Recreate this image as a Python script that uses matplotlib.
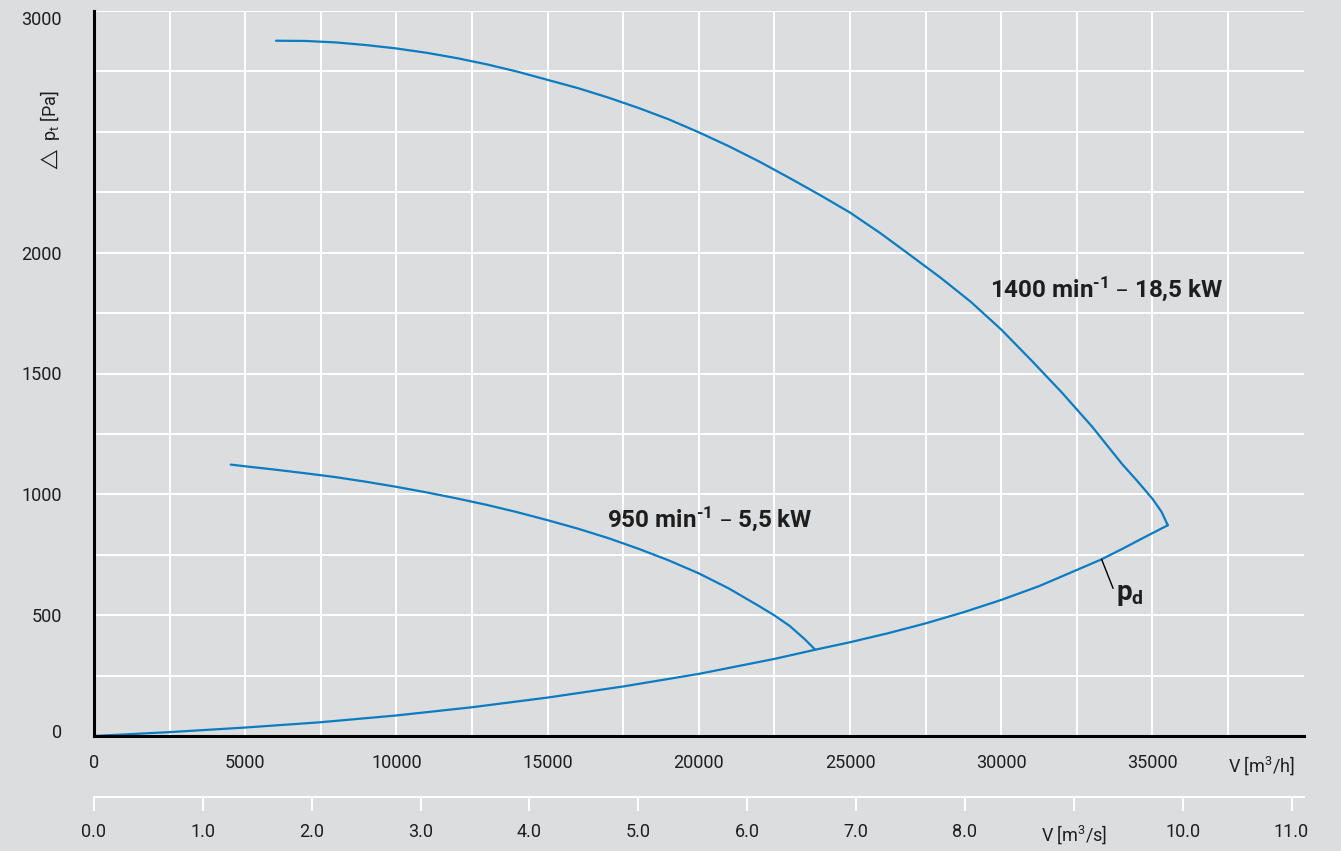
import numpy as np
import matplotlib
matplotlib.use("Agg")
import matplotlib.pyplot as plt
from matplotlib.transforms import ScaledTranslation

# ---------------- data ----------------
# 1400 min-1 characteristic (V [m3/h], dpt [Pa])
v_1400 = [6020, 7000, 8000, 9000, 10000, 11000, 12000, 13000, 14000, 15000,
          16000, 17000, 18000, 19000, 20000, 21000, 22000, 23000, 24000, 25000,
          26000, 27000, 28000, 29000, 30000, 31000, 32000, 33000, 34000, 34500,
          35000, 35300, 35510]
p_1400 = [2877, 2876, 2870, 2859, 2845, 2827, 2805, 2779, 2749, 2715,
          2681, 2642, 2599, 2552, 2498, 2440, 2377, 2309, 2239, 2166,
          2081, 1989, 1896, 1796, 1682, 1554, 1422, 1281, 1125, 1055,
          982, 928, 872]

# 950 min-1 characteristic
v_950 = [4520, 5000, 6000, 7000, 8000, 9000, 10000, 11000, 12000, 13000,
         14000, 15000, 16000, 17000, 18000, 19000, 20000, 21000, 22000, 22500,
         23000, 23500, 23850]
p_950 = [1123, 1116, 1102, 1087, 1071, 1052, 1031, 1008, 983, 956,
         926, 893, 858, 819, 775, 727, 673, 610, 537, 499,
         456, 401, 357]

# dynamic pressure pd
v_pd = [0, 2500, 5000, 7500, 10000, 12500, 15000, 17500, 20000, 22500, 23850,
        25000, 26250, 27500, 28750, 30000, 31250, 32500, 33300, 34000, 34700, 35510]
p_pd = [0, 16, 35, 57, 85, 119, 159, 205, 257, 319, 357,
        388, 425, 466, 512, 563, 620, 687, 730, 774, 820, 872]

x_ticks_h = [0, 5000, 10000, 15000, 20000, 25000, 30000, 35000, 40000]
x_labels_h = ["0", "5000", "10000", "15000", "20000", "25000", "30000", "35000",
              "V [m$^\\mathregular{3}$/h]"]
x_ticks_s = list(range(0, 12))
x_labels_s = ["0.0", "1.0", "2.0", "3.0", "4.0", "5.0", "6.0", "7.0", "8.0",
              "V [m$^\\mathregular{3}$/s]", "10.0", "11.0"]
y_ticks = [0, 500, 1000, 1500, 2000, 2500, 3000]
y_labels = ["0", "500", "1000", "1500", "2000",
            "$\\triangle$ p$_\\mathregular{t}$ [Pa]", "3000"]

label_1400 = "1400 min$^\\mathregular{\u20101}$ – 18,5 kW"
label_950 = "950 min$^\\mathregular{\u20101}$ – 5,5 kW"
label_pd = "p$_\\mathregular{d}$"

# ---------------- style ----------------
BG = "#dcdddf"
BLUE = "#0a7cc2"
TXT = "#1e1e1e"
plt.rcParams['font.family'] = ['Roboto', 'DejaVu Sans']
plt.rcParams['mathtext.default'] = 'regular'

fig = plt.figure(figsize=(13.41, 8.51), dpi=100, facecolor=BG)
W, H = 1341, 851
left_px, right_px, top_px, bot_px = 94, 1303.6, 11, 736
ax = fig.add_axes([left_px / W, (H - bot_px) / H, (right_px - left_px) / W, (bot_px - top_px) / H])
ax.set_facecolor(BG)
ax.set_xlim(0, 40000)
ax.set_ylim(0, 3000)

# grid
for gx in np.arange(2500, 40000, 2500):
    ax.axvline(gx, color="white", lw=1.4, zorder=0)
for gy in np.arange(250, 3001, 250):
    ax.axhline(gy, color="white", lw=1.4, zorder=0)

# curves
for vv, pp in ((v_1400, p_1400), (v_950, p_950), (v_pd, p_pd)):
    ax.plot(vv, pp, color=BLUE, lw=1.6, zorder=3,
            solid_joinstyle='round', solid_capstyle='round')

# spines
for s in ["top", "right"]:
    ax.spines[s].set_visible(False)
for s in ["left", "bottom"]:
    ax.spines[s].set_color("black")
    ax.spines[s].set_linewidth(2.2)
    ax.spines[s].set_zorder(4)

# ticks
ax.set_xticks(x_ticks_h)
ax.set_xticklabels(x_labels_h)
ax.set_yticks(y_ticks)
ax.set_yticklabels(y_labels)
ax.tick_params(axis="x", length=0, pad=13, labelsize=13, labelcolor=TXT)
ax.tick_params(axis="y", length=0, pad=23, labelsize=13, labelcolor=TXT)
xl = ax.get_xticklabels()
xl[-1].set_ha("right")
xl[-1].set_transform(xl[-1].get_transform() + ScaledTranslation(-0.09, 0, fig.dpi_scale_trans))
yl = ax.get_yticklabels()
yl[0].set_transform(yl[0].get_transform() + ScaledTranslation(0, 0.05, fig.dpi_scale_trans))
yl[-1].set_va("top")
yl[5].set_rotation(90)
yl[5].set_va("center")
yl[5].set_ha("right")

# secondary axis in m3/s
sec = ax.secondary_xaxis(-(797 - bot_px) / (bot_px - top_px),
                         functions=(lambda x: x / 3600.0, lambda x: x * 3600.0))
sec.set_xticks(x_ticks_s)
sec.set_xticklabels(x_labels_s)
sec.spines["bottom"].set_color("white")
sec.spines["bottom"].set_linewidth(1.5)
sec.tick_params(axis="x", direction="out", length=10, width=1.5, color="white",
                pad=9, labelsize=13, labelcolor=TXT)

# annotations
ax.text(29630, 1850, label_1400, fontsize=17.5, fontweight="bold", color=TXT,
        ha="left", va="center")
ax.text(16964, 898, label_950, fontsize=17.5, fontweight="bold", color=TXT,
        ha="left", va="center")
x_lead = 33320
y_lead = float(np.interp(x_lead, v_pd, p_pd))
ax.annotate("", xy=(x_lead, y_lead), xytext=(33700, 611),
            arrowprops=dict(arrowstyle="-", color="black", lw=1.0,
                            shrinkA=0, shrinkB=0))
ax.text(33800, 584, label_pd, fontsize=20, fontweight="bold", color=TXT,
        ha="left", va="center")

fig.savefig("out.png", dpi=100, facecolor=BG)
